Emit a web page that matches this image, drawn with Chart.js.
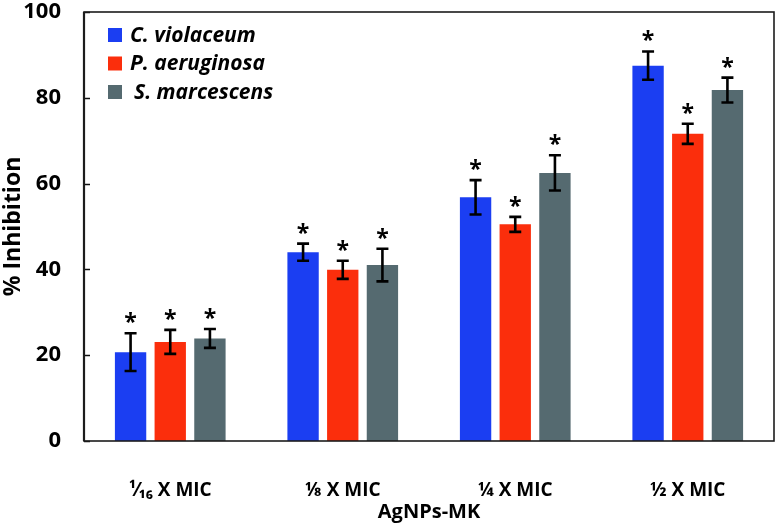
<!DOCTYPE html>
<html>
<head>
<meta charset="utf-8">
<script src="https://cdn.jsdelivr.net/npm/chart.js@4/dist/chart.umd.min.js"></script>
<style>
  html, body { margin: 0; padding: 0; background: #fff; }
  #wrap { width: 779px; height: 524px; }
</style>
</head>
<body>
<div id="wrap"><canvas id="c" width="779" height="524"></canvas></div>
<script>
const categories = ["\u00B9\u2044\u2081\u2086 X MIC", "\u215B X MIC", "\u00BC X MIC", "\u00BD X MIC"];
const seriesNames = ["C. violaceum", "P. aeruginosa", "S. marcescens"];
const violaceum = [20.7, 44.0, 56.8, 87.5];
const violaceumErr = [4.4, 2.0, 4.0, 3.3];
const aeruginosa = [23.1, 39.9, 50.5, 71.6];
const aeruginosaErr = [2.8, 2.1, 1.75, 2.35];
const marcescens = [23.9, 41.0, 62.5, 81.8];
const marcescensErr = [2.2, 3.8, 4.1, 2.9];
const yTicks = [0, 20, 40, 60, 80, 100];
const colors = ["#1b3ef2", "#fb2e0c", "#556a70"];

const FONT = "'Open Sans', 'Noto Sans', sans-serif";

const overlay = {
  id: 'overlay',
  afterDatasetsDraw(chart) {
    const ctx = chart.ctx;
    const area = chart.chartArea;
    const ys = chart.scales.y;
    ctx.save();
    // inward y ticks
    ctx.strokeStyle = '#111';
    ctx.lineWidth = 1.5;
    yTicks.forEach(v => {
      const y = Math.round(ys.getPixelForValue(v)) + 0.5;
      ctx.beginPath();
      ctx.moveTo(area.left, y);
      ctx.lineTo(area.left + 6, y);
      ctx.stroke();
    });
    // frame
    ctx.lineWidth = 1.6;
    ctx.strokeStyle = '#1c1c1c';
    ctx.strokeRect(area.left, area.top, area.right - area.left, area.bottom - area.top);
    ctx.lineWidth = 2.2;
    ctx.beginPath();
    ctx.moveTo(area.left, area.top);
    ctx.lineTo(area.left, area.bottom);
    ctx.stroke();
    // error bars and asterisks
    chart.data.datasets.forEach((ds, di) => {
      const meta = chart.getDatasetMeta(di);
      meta.data.forEach((bar, i) => {
        const v = ds.data[i], e = ds.errors[i];
        const x = bar.x;
        const yt = ys.getPixelForValue(v + e);
        const yb = ys.getPixelForValue(v - e);
        ctx.strokeStyle = '#000';
        ctx.lineWidth = 2.6;
        ctx.beginPath();
        ctx.moveTo(x, yt); ctx.lineTo(x, yb);
        ctx.moveTo(x - 6, yt); ctx.lineTo(x + 6, yt);
        ctx.moveTo(x - 6, yb); ctx.lineTo(x + 6, yb);
        ctx.stroke();
        ctx.fillStyle = '#000';
        ctx.font = "bold 23px " + FONT;
        ctx.textAlign = 'center';
        ctx.textBaseline = 'alphabetic';
        ctx.fillText('*', x, yt - 3);
      });
    });
    // legend
    const lx = area.left + 24, ly0 = 35, step = 28.5;
    chart.data.datasets.forEach((ds, di) => {
      const y = ly0 + di * step;
      ctx.fillStyle = ds.backgroundColor;
      ctx.fillRect(lx, y - 7, 14, 14);
      ctx.fillStyle = '#000';
      ctx.font = "italic bold 21px " + FONT;
      ctx.textAlign = 'left';
      ctx.textBaseline = 'middle';
      ctx.fillText(ds.label, lx + 22 + (di === 2 ? 4 : 0), y + 1);
    });
    ctx.restore();
  }
};

new Chart(document.getElementById('c'), {
  type: 'bar',
  data: {
    labels: categories,
    datasets: [
      { label: seriesNames[0], data: violaceum, errors: violaceumErr, backgroundColor: colors[0] },
      { label: seriesNames[1], data: aeruginosa, errors: aeruginosaErr, backgroundColor: colors[1] },
      { label: seriesNames[2], data: marcescens, errors: marcescensErr, backgroundColor: colors[2] }
    ]
  },
  options: {
    responsive: false,
    animation: false,
    categoryPercentage: 0.69,
    barPercentage: 0.79,
    layout: { padding: { top: 12, right: 5, left: 0, bottom: 0 } },
    plugins: { legend: { display: false }, tooltip: { enabled: false } },
    scales: {
      x: {
        grid: { display: false, drawTicks: false },
        border: { display: false },
        ticks: { color: '#000', font: { family: FONT, weight: 'bold', size: 19 }, padding: 38, maxRotation: 0 },
        title: { display: true, text: 'AgNPs-MK', color: '#000', font: { family: FONT, weight: 'bold', size: 20 }, padding: { top: 0, bottom: 0 } },
        afterFit(s) { s.height = 83; s.paddingLeft = 0; s.paddingRight = 0; }
      },
      y: {
        min: 0, max: 100,
        afterBuildTicks(s) { s.ticks = yTicks.map(v => ({ value: v })); },
        grid: { display: false, drawTicks: false },
        border: { display: false },
        ticks: { color: '#000', font: { family: FONT, weight: 'bold', size: 22 }, padding: 23 },
        title: { display: true, text: '% Inhibition', color: '#000', font: { family: FONT, weight: 'bold', size: 23 }, padding: { top: 0, bottom: 0 } },
        afterFit(s) { s.width = 84; s.paddingTop = 0; s.paddingBottom = 0; }
      }
    }
  },
  plugins: [overlay]
});
</script>
</body>
</html>
